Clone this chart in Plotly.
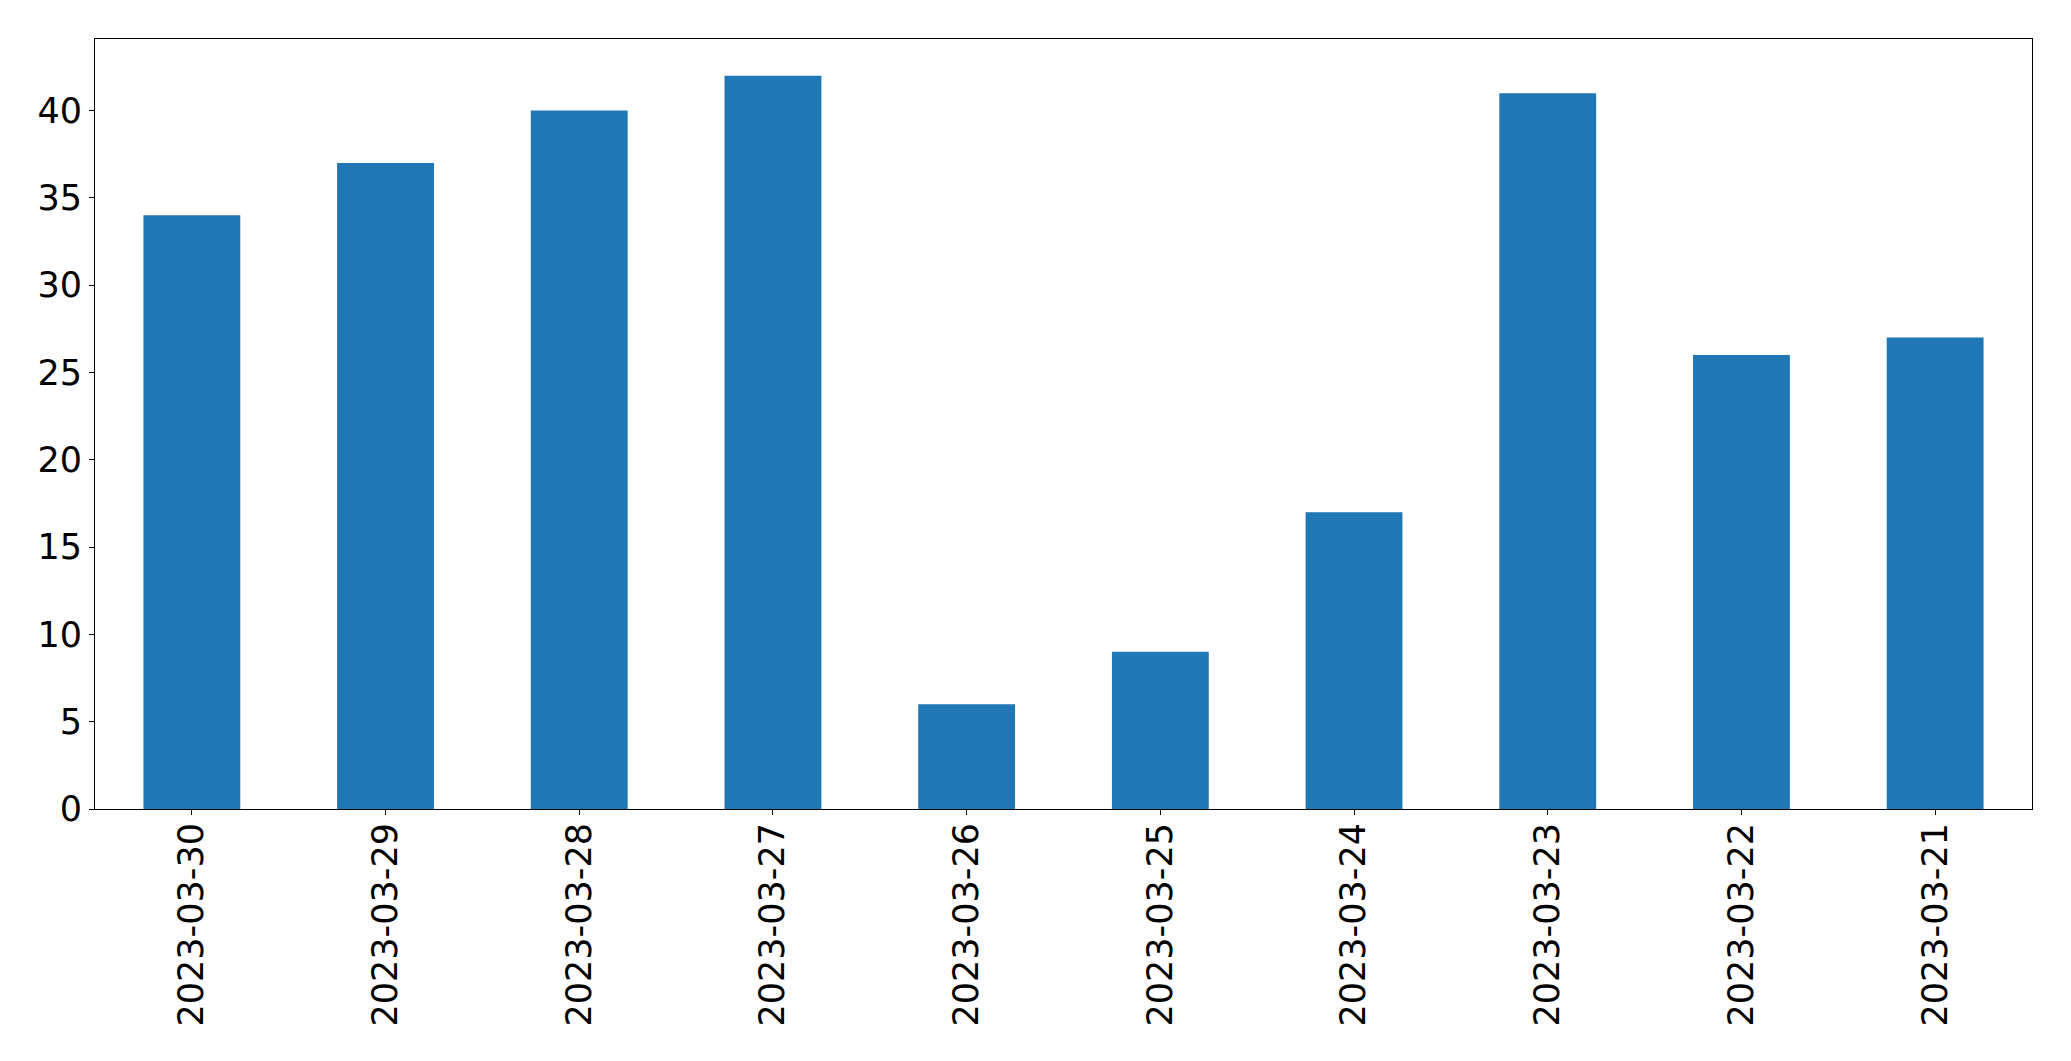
import plotly.graph_objects as go

dates = ["2023-03-30", "2023-03-29", "2023-03-28", "2023-03-27", "2023-03-26",
         "2023-03-25", "2023-03-24", "2023-03-23", "2023-03-22", "2023-03-21"]
counts = [34, 37, 40, 42, 6, 9, 17, 41, 26, 27]
y_ticks = [0, 5, 10, 15, 20, 25, 30, 35, 40]

# page body has an 8px default margin; size the figure to fit inside it
W, H = 2055, 1045
fig = go.Figure(go.Bar(x=dates, y=counts, marker=dict(color="#1f77b4", line=dict(width=0))))

axis_common = dict(
    showline=True, linecolor="black", linewidth=1.1, mirror=True,
    ticks="outside", ticklen=5, tickwidth=1.1, tickcolor="black",
    showgrid=False, zeroline=False,
    tickfont=dict(family="DejaVu Sans", size=35, color="black"),
)

fig.update_layout(
    width=W, height=H,
    margin=dict(l=87, r=31, t=31, b=244, pad=0),
    paper_bgcolor="white", plot_bgcolor="white",
    bargap=0.5, showlegend=False,
    xaxis=dict(type="category", categoryorder="array", categoryarray=dates,
               range=[-0.5, len(dates) - 0.5], tickangle=-90,
               ticklabelstandoff=-6, **axis_common),
    yaxis=dict(range=[0, max(counts) * 1.05], tickvals=y_ticks, **axis_common),
)

fig.write_html("out.html")
